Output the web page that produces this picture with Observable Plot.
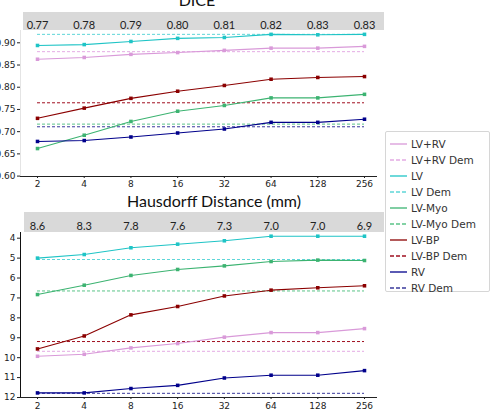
<!DOCTYPE html>
<html>
<head>
<meta charset="utf-8">
<script src="https://cdn.jsdelivr.net/npm/d3@7"></script>
<script src="https://cdn.jsdelivr.net/npm/@observablehq/plot@0.6"></script>
<style>
  body { margin: 0; background: #fff; }
  #chart { position: relative; width: 492px; height: 412px; overflow: hidden; font-family: "DejaVu Sans", sans-serif; }
  .band { position: absolute; background: #d9d9d9; }
  .title { position: absolute; font-family: Lato, sans-serif; font-size: 16px; line-height: 16px; text-align: center; color: #111; white-space: nowrap; }
  .panel { position: absolute; left: 0; }
  .panel svg { background: transparent !important; }
  #legend { position: absolute; left: 385px; top: 131px; width: 105px; height: 161px; border: 1px solid #d6d6d6; border-radius: 2px; background: #fff; box-sizing: border-box; }
  .row { position: absolute; left: 0; height: 16px; display: flex; align-items: center; font-size: 10.5px; color: #333; white-space: nowrap; }
  .row svg { margin-left: 4px; margin-right: 4px; }
</style>
</head>
<body>
<div id="chart">
  <div class="band" style="left:23px; top:12px; width:361px; height:18px;"></div>
  <div class="band" style="left:24px; top:212px; width:360px; height:20px;"></div>
  <div class="title" style="left:147px; top:-8px; width:100px;">DICE</div>
  <div class="title" style="left:114px; top:193px; width:200px;">Hausdorff Distance (mm)</div>
  <div class="panel" id="dice" style="top:0px;"></div>
  <div class="panel" id="hd" style="top:200px;"></div>
  <div id="legend"></div>
</div>
<script>
// Downsampling factors on the x axis
const xs = [2, 4, 8, 16, 32, 64, 128, 256];

// Structures, their colours (solid = model, dashed = Dem reference)
const seriesNames = ["LV+RV", "LV", "LV-Myo", "LV-BP", "RV"];
const seriesColors = ["#d99ad9", "#1fc4c6", "#3cb371", "#8b0000", "#00008b"];
const demColors = ["#e4abe4", "#5fd6d8", "#5bc488", "#a01020", "#3a3a9c"];

// DICE scores
const diceLVRV = [0.863, 0.867, 0.874, 0.878, 0.883, 0.888, 0.888, 0.892];
const diceLV   = [0.894, 0.896, 0.903, 0.910, 0.912, 0.919, 0.918, 0.919];
const diceMyo  = [0.662, 0.692, 0.723, 0.746, 0.759, 0.776, 0.776, 0.784];
const diceBP   = [0.730, 0.753, 0.775, 0.791, 0.804, 0.818, 0.822, 0.824];
const diceRV   = [0.678, 0.680, 0.688, 0.697, 0.706, 0.721, 0.721, 0.728];
const diceDem  = [0.880, 0.919, 0.717, 0.765, 0.711];
const diceBand = ["0.77", "0.78", "0.79", "0.80", "0.81", "0.82", "0.83", "0.83"];
const diceTicks = [0.60, 0.65, 0.70, 0.75, 0.80, 0.85, 0.90];

// Hausdorff distances (mm)
const hdLVRV = [9.93, 9.83, 9.51, 9.29, 8.97, 8.74, 8.74, 8.54];
const hdLV   = [5.00, 4.82, 4.48, 4.30, 4.13, 3.90, 3.90, 3.90];
const hdMyo  = [6.83, 6.36, 5.87, 5.57, 5.39, 5.17, 5.10, 5.12];
const hdBP   = [9.56, 8.91, 7.85, 7.43, 6.90, 6.61, 6.49, 6.39];
const hdRV   = [11.77, 11.77, 11.55, 11.39, 11.02, 10.88, 10.88, 10.65];
const hdDem  = [9.68, 5.07, 6.65, 9.19, 11.79];
const hdBand = ["8.6", "8.3", "7.8", "7.6", "7.3", "7.0", "7.0", "6.9"];
const hdTicks = [4, 5, 6, 7, 8, 9, 10, 11, 12];

function toRows(seriesValues) {
  return seriesValues.flatMap((vals, s) =>
    vals.map((v, i) => ({series: seriesNames[s], color: seriesColors[s], x: xs[i], y: v})));
}

function panel({values, dem, band, ticks, fmt, yDomain, yRange, height, marginTop, marginBottom, spine, bandDy, labelPad}) {
  const rows = toRows(values);
  const demRows = dem.map((v, s) => ({series: seriesNames[s], color: demColors[s], y: v}));
  return Plot.plot({
    width: 380,
    height,
    marginLeft: 20,
    marginRight: 4,
    marginTop,
    marginBottom,
    style: {fontFamily: "DejaVu Sans, sans-serif", fontSize: "9px", color: "#222", background: "transparent"},
    x: {type: "log", base: 2, domain: [xs[0], xs[xs.length - 1]], range: [37, 364]},
    y: {domain: yDomain, range: yRange},
    color: {type: "identity"},
    marks: [
      Plot.frame({anchor: "left", stroke: spine}),
      Plot.frame({anchor: "bottom", stroke: "#222"}),
      Plot.ruleY(demRows, {y: "y", x1: xs[0], x2: xs[xs.length - 1], stroke: "color", strokeWidth: 1, strokeDasharray: "3,2"}),
      Plot.line(rows, {x: "x", y: "y", z: "series", stroke: "color", strokeWidth: 1.1}),
      Plot.dot(rows, {x: "x", y: "y", fill: "color", symbol: "square", r: 2}),
      Plot.text(band, {x: (d, i) => xs[i], frameAnchor: "top", dy: bandDy, fontFamily: "Lato, sans-serif", fontSize: 11, fill: "#222"}),
      Plot.axisX({ticks: xs, tickFormat: d => String(d), tickSize: 2, tickPadding: labelPad, label: null}),
      Plot.axisY({ticks, tickFormat: fmt, tickSize: 3, tickPadding: 2, label: null})
    ]
  });
}

document.getElementById("dice").append(panel({
  values: [diceLVRV, diceLV, diceMyo, diceBP, diceRV],
  dem: diceDem, band: diceBand, ticks: diceTicks, fmt: d3.format(".2f"),
  yDomain: [0.60, 0.90], yRange: [175.6, 42.3],
  height: 190, marginTop: 30, marginBottom: 14, spine: "#e4e4e4", bandDy: -9, labelPad: 2
}));

document.getElementById("hd").append(panel({
  values: [hdLVRV, hdLV, hdMyo, hdBP, hdRV],
  dem: hdDem, band: hdBand, ticks: hdTicks, fmt: d3.format("d"),
  yDomain: [4, 12], yRange: [37.7, 197],
  height: 212, marginTop: 32, marginBottom: 15, spine: "#111", bandDy: -10, labelPad: 3
}));

// Legend: solid line for each structure followed by its dashed Dem line
const legend = document.getElementById("legend");
seriesNames.forEach((name, s) => {
  [[name, seriesColors[s], null], [name + " Dem", demColors[s], "4,2"]].forEach(([label, color, dash], k) => {
    const row = document.createElement("div");
    row.className = "row";
    row.style.top = (4 + (2 * s + k) * 16) + "px";
    row.innerHTML = `<svg width="17" height="4"><line x1="0" x2="17" y1="2" y2="2" stroke="${color}" stroke-width="1.3"${dash ? ` stroke-dasharray="${dash}"` : ""}/></svg><span>${label}</span>`;
    legend.append(row);
  });
});
</script>
</body>
</html>
